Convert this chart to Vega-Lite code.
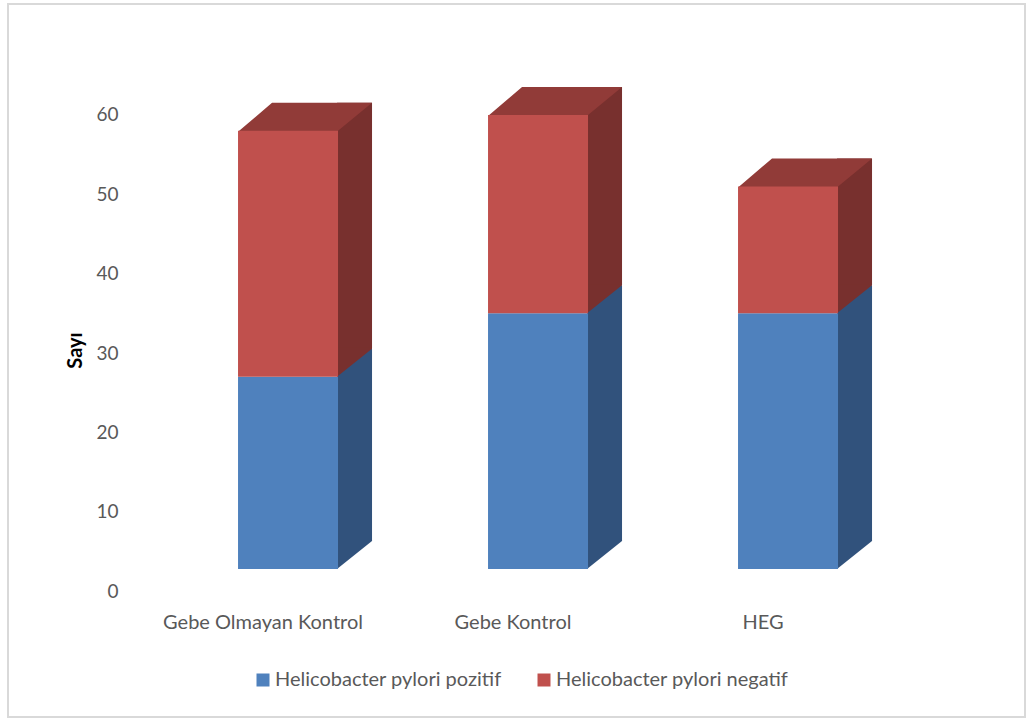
{
  "$schema": "https://vega.github.io/schema/vega-lite/v6.json",
  "autosize": "none",
  "padding": {"left": 8, "top": 4, "right": 5, "bottom": 1},
  "width": 1017,
  "height": 713,
  "background": "white",
  "config": {
    "view": {"stroke": "#D9D9D9", "strokeWidth": 2},
    "font": "Lato"
  },
  "data": {
    "values": [
      {"category": "Gebe Olmayan Kontrol", "series": "Helicobacter pylori pozitif", "order": 1, "value": 27},
      {"category": "Gebe Olmayan Kontrol", "series": "Helicobacter pylori negatif", "order": 2, "value": 31},
      {"category": "Gebe Kontrol", "series": "Helicobacter pylori pozitif", "order": 1, "value": 35},
      {"category": "Gebe Kontrol", "series": "Helicobacter pylori negatif", "order": 2, "value": 25},
      {"category": "HEG", "series": "Helicobacter pylori pozitif", "order": 1, "value": 35},
      {"category": "HEG", "series": "Helicobacter pylori negatif", "order": 2, "value": 16}
    ]
  },
  "transform": [
    {"stack": "value", "groupby": ["category"], "sort": [{"field": "order", "order": "ascending"}], "as": ["y0", "y1"]}
  ],
  "encoding": {
    "x": {
      "field": "category", "type": "nominal",
      "sort": ["Gebe Olmayan Kontrol", "Gebe Kontrol", "HEG"],
      "scale": {"paddingInner": 0, "paddingOuter": 0.534, "align": 0.487},
      "axis": {
        "orient": "bottom", "offset": -126, "domain": false, "ticks": false, "grid": false,
        "title": null, "labelAngle": 0, "labelPadding": 21, "labelFontSize": 20,
        "labelColor": "#595959", "labelFont": "Lato", "labelLimit": 400
      }
    },
    "y": {
      "field": "y1", "type": "quantitative",
      "scale": {"domain": [-15.88, 73.99], "nice": false, "zero": false},
      "axis": {
        "orient": "left", "offset": -130, "values": [0, 10, 20, 30, 40, 50, 60],
        "domain": false, "ticks": false, "grid": false, "labelPadding": 20,
        "labelFontSize": 19, "labelColor": "#595959", "labelFont": "Lato",
        "title": "Sayı", "titleFont": "Lato", "titleFontSize": 20, "titleFontWeight": "bold",
        "titleColor": "#000000", "titleAngle": 270, "titleX": -63, "titleY": 346,
        "titleAlign": "center", "titleBaseline": "middle"
      }
    }
  },
  "layer": [
    {
      "transform": [{"filter": "datum.order == 1"}],
      "mark": {"type": "bar", "width": 35, "xOffset": 91.5, "yOffset": -28, "y2Offset": -50, "color": "#31527C"},
      "encoding": {"y2": {"field": "y0"}}
    },
    {
      "transform": [{"filter": "datum.order == 2"}],
      "mark": {"type": "bar", "width": 35, "xOffset": 91.5, "yOffset": -28, "y2Offset": -28, "color": "#78302E"},
      "encoding": {"y2": {"field": "y0"}}
    },
    {
      "transform": [{"filter": "datum.order == 1"}],
      "mark": {"type": "point", "shape": "M74,0 L74,-29 L109,-29 L109,-28 Z", "size": 4, "filled": true, "opacity": 1, "color": "#31527C", "strokeWidth": 0, "yOffset": -22},
      "encoding": {"y": {"field": "y0", "type": "quantitative"}}
    },
    {
      "transform": [{"filter": "datum.order == 2"}],
      "mark": {"type": "point", "shape": "M74,0 L74,-29 L109,-29 L109,-28 Z", "size": 4, "filled": true, "opacity": 1, "color": "#78302E", "strokeWidth": 0},
      "encoding": {"y": {"field": "y0", "type": "quantitative"}}
    },
    {
      "transform": [{"filter": "datum.order == 2"}],
      "mark": {"type": "point", "shape": "M-25,1 L75,1 L75,0 L109,-28 L9,-28 Z", "size": 4, "filled": true, "opacity": 1, "color": "#913B38", "strokeWidth": 0},
      "encoding": {}
    },
    {
      "transform": [{"filter": "datum.order == 1"}],
      "mark": {"type": "bar", "width": 100, "xOffset": 25, "y2Offset": -22},
      "encoding": {
        "y2": {"field": "y0"},
        "color": {
          "field": "series", "type": "nominal",
          "scale": {"domain": ["Helicobacter pylori pozitif", "Helicobacter pylori negatif"], "range": ["#4F81BD", "#C0504D"]},
          "legend": {
            "orient": "none", "direction": "horizontal", "legendX": 245, "legendY": 666, "title": null,
            "symbolType": "square", "symbolSize": 169, "symbolStrokeWidth": 0, "labelFontSize": 20,
            "labelColor": "#595959", "labelFont": "Lato", "labelOffset": 2, "columnPadding": 32, "labelLimit": 400
          }
        }
      }
    },
    {
      "transform": [{"filter": "datum.order == 2"}],
      "mark": {"type": "bar", "width": 100, "xOffset": 25},
      "encoding": {
        "y2": {"field": "y0"},
        "color": {"field": "series", "type": "nominal"}
      }
    }
  ]
}
